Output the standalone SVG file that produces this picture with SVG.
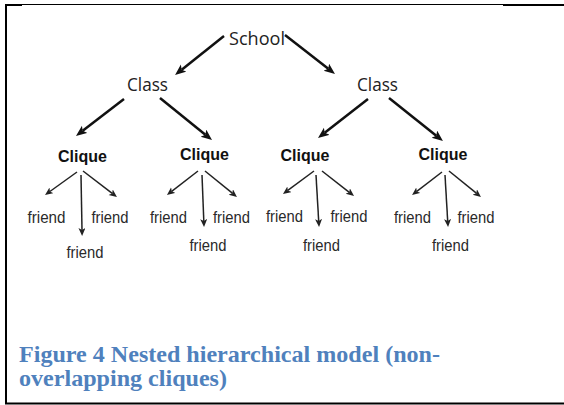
<svg xmlns="http://www.w3.org/2000/svg" width="564" height="405" viewBox="0 0 564 405">
<style>
.lvl{font-family:"Open Sans","Liberation Sans",sans-serif;font-size:19px;fill:#222;text-anchor:middle}
.clq{font-family:"Liberation Sans",Arial,sans-serif;font-size:16px;font-weight:bold;fill:#111;text-anchor:middle}
.fr{font-family:"Liberation Sans",Arial,sans-serif;font-size:16px;fill:#2a2a2a;text-anchor:middle}
.cap{font-family:"Liberation Serif","Times New Roman",serif;font-size:23px;font-weight:bold;fill:#4F81BD}
.big{stroke:#111;stroke-width:2.5;fill:none;marker-end:url(#ah)}
.sm{stroke:#222;stroke-width:1.5;fill:none;marker-end:url(#as)}
</style>
<defs>
<marker id="ah" markerUnits="userSpaceOnUse" markerWidth="12" markerHeight="10" refX="2.5" refY="4.5" orient="auto">
<path d="M0,0 L11,4.5 L0,9 L2.5,4.5 z" fill="#111"/>
</marker>
<marker id="as" markerUnits="userSpaceOnUse" markerWidth="9" markerHeight="8" refX="2" refY="3.5" orient="auto">
<path d="M0,0 L8,3.5 L0,7 L2,3.5 z" fill="#222"/>
</marker>
</defs>
<g id="frame" stroke="#000" fill="none">
<line x1="6" y1="4.5" x2="564" y2="4.5" stroke-width="1"/>
<line x1="5" y1="5" x2="22" y2="5" stroke-width="2"/>
<line x1="503" y1="5" x2="564" y2="5" stroke-width="2"/>
<line x1="6" y1="4" x2="6" y2="404" stroke-width="2"/>
<line x1="5" y1="403.5" x2="564" y2="403.5" stroke-width="2"/>
</g>
<g id="connectors">
<line class="big" x1="224" y1="36" x2="181.7" y2="69.7"/>
<line class="big" x1="285" y1="35" x2="328.3" y2="68.8"/>
<line class="big" x1="124" y1="99" x2="82.7" y2="130.8"/>
<line class="big" x1="160" y1="98" x2="205.4" y2="134.7"/>
<line class="big" x1="368" y1="99" x2="324.7" y2="132.8"/>
<line class="big" x1="389" y1="98" x2="436.3" y2="135.7"/>
<line class="sm" x1="77" y1="172" x2="49.9" y2="191.5"/>
<line class="sm" x1="81" y1="175" x2="82" y2="230"/>
<line class="sm" x1="83" y1="171" x2="112.2" y2="193.4"/>
<line class="sm" x1="198" y1="171" x2="171.7" y2="191.3"/>
<line class="sm" x1="202" y1="175" x2="203.8" y2="221"/>
<line class="sm" x1="205" y1="171" x2="232.3" y2="193.2"/>
<line class="sm" x1="314" y1="171" x2="287.8" y2="190.4"/>
<line class="sm" x1="316" y1="175" x2="318.7" y2="221"/>
<line class="sm" x1="322" y1="171" x2="349.3" y2="192.3"/>
<line class="sm" x1="442" y1="172" x2="416.8" y2="191.4"/>
<line class="sm" x1="445" y1="175" x2="447.7" y2="221"/>
<line class="sm" x1="449" y1="171" x2="476.3" y2="193.2"/>
</g>
<g id="school"><text class="lvl" x="257" y="45" textLength="56" lengthAdjust="spacingAndGlyphs">School</text></g>
<g id="class1"><text class="lvl" x="147.5" y="91" textLength="41" lengthAdjust="spacingAndGlyphs">Class</text></g>
<g id="class2"><text class="lvl" x="377.5" y="91" textLength="41" lengthAdjust="spacingAndGlyphs">Class</text></g>
<g id="clique1"><text class="clq" x="82.5" y="162">Clique</text></g>
<g id="clique2"><text class="clq" x="204.5" y="160">Clique</text></g>
<g id="clique3"><text class="clq" x="305" y="161">Clique</text></g>
<g id="clique4"><text class="clq" x="443" y="160">Clique</text></g>
<g id="friend1a"><text class="fr" x="46.5" y="223" textLength="38" lengthAdjust="spacingAndGlyphs">friend</text></g>
<g id="friend1b"><text class="fr" x="110" y="223" textLength="37" lengthAdjust="spacingAndGlyphs">friend</text></g>
<g id="friend1c"><text class="fr" x="85" y="258" textLength="37" lengthAdjust="spacingAndGlyphs">friend</text></g>
<g id="friend2a"><text class="fr" x="168.5" y="223" textLength="37" lengthAdjust="spacingAndGlyphs">friend</text></g>
<g id="friend2b"><text class="fr" x="231.5" y="223" textLength="37" lengthAdjust="spacingAndGlyphs">friend</text></g>
<g id="friend2c"><text class="fr" x="208" y="251" textLength="37" lengthAdjust="spacingAndGlyphs">friend</text></g>
<g id="friend3a"><text class="fr" x="284.5" y="222" textLength="37" lengthAdjust="spacingAndGlyphs">friend</text></g>
<g id="friend3b"><text class="fr" x="349" y="222" textLength="37" lengthAdjust="spacingAndGlyphs">friend</text></g>
<g id="friend3c"><text class="fr" x="321.5" y="251" textLength="37" lengthAdjust="spacingAndGlyphs">friend</text></g>
<g id="friend4a"><text class="fr" x="412.5" y="223" textLength="37" lengthAdjust="spacingAndGlyphs">friend</text></g>
<g id="friend4b"><text class="fr" x="476" y="223" textLength="37" lengthAdjust="spacingAndGlyphs">friend</text></g>
<g id="friend4c"><text class="fr" x="450.5" y="251" textLength="37" lengthAdjust="spacingAndGlyphs">friend</text></g>
<g id="caption">
<text class="cap" x="19" y="362" textLength="421" lengthAdjust="spacingAndGlyphs">Figure 4 Nested hierarchical model (non-</text>
<text class="cap" x="19" y="386" textLength="208" lengthAdjust="spacingAndGlyphs">overlapping cliques)</text>
</g>
</svg>
